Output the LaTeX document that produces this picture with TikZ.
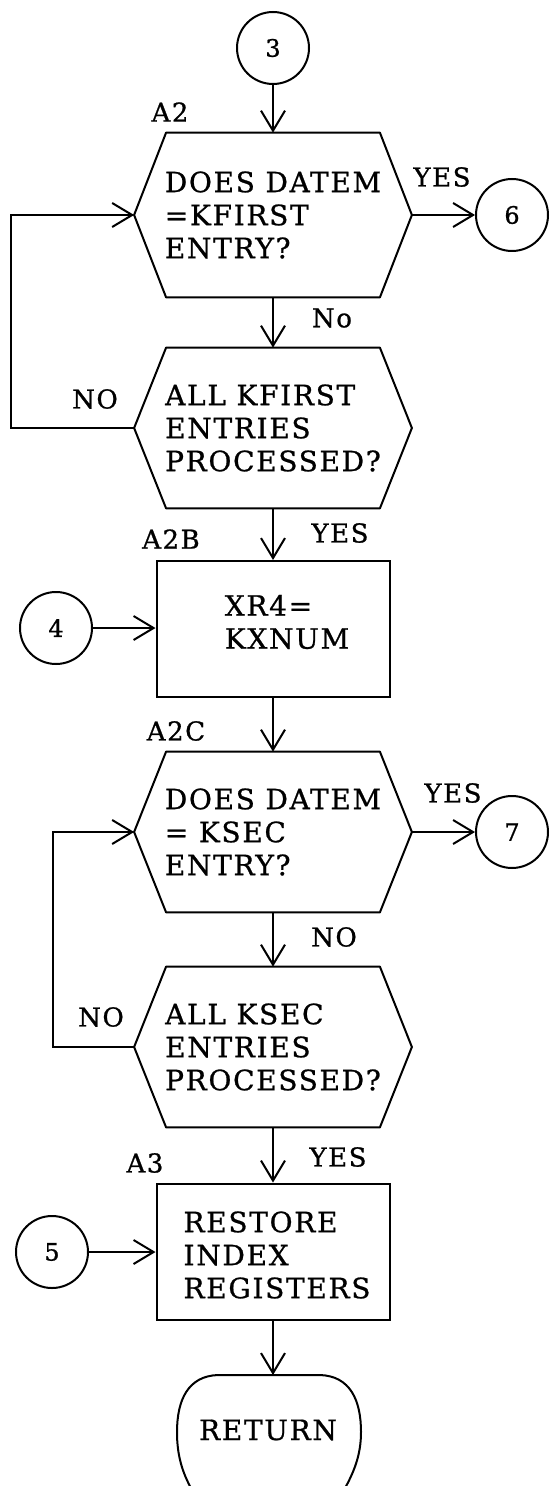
\documentclass[tikz,border=0pt]{standalone}
\usepackage{fontspec}
\setmainfont{DejaVu Serif}[LetterSpace=6, FakeBold=0.8]
\usetikzlibrary{arrows.meta}

% six-sided decision outline drawn around a borderless node
\newcommand{\drawdecision}[1]{%
  \draw[outline] ([xshift=16pt]#1.north west) -- ([xshift=-16pt]#1.north east)
    -- (#1.east) -- ([xshift=-16pt]#1.south east)
    -- ([xshift=16pt]#1.south west) -- (#1.west) -- cycle;}

\tikzset{
  outline/.style={line width=1pt, line join=round},
  flow/.style={line width=1pt, -{Straight Barb[length=10pt,width=12pt,line width=1pt]}},
  decision/.style={minimum width=138.5pt, minimum height=80pt, inner sep=0pt,
    align=left, font=\fontsize{14}{16.5}\selectfont},
  procbox/.style={draw, line width=1pt, minimum width=116.5pt, minimum height=68pt, inner sep=0pt},
  boxtext/.style={align=left, inner sep=0pt, font=\fontsize{14}{16.5}\selectfont},
  connector/.style={draw, circle, line width=1pt, minimum size=36pt, inner sep=0pt,
    font=\fontsize{12}{14}\selectfont},
  tag/.style={inner sep=0pt, font=\fontsize{13}{15}\selectfont},
}

\begin{document}
\begin{tikzpicture}[x=0.5pt, y=-0.5pt]
  \useasboundingbox (0,0) rectangle (550,1486);

  % off-page connectors
  \node[connector] (c3) at (273,48) {3};
  \node[connector] (c6) at (512,215) {6};
  \node[connector] (c4) at (56,628) {4};
  \node[connector] (c7) at (512,832) {7};
  \node[connector] (c5) at (52,1252) {5};

  % decisions
  \node[decision, minimum height=82pt] (h1) at (273,215) {DOES DATEM\\=KFIRST\\ENTRY?};
  \node[decision] (h2) at (273,428) {ALL KFIRST\\ENTRIES\\PROCESSED?};
  \node[decision] (h3) at (273,832) {DOES DATEM\\= KSEC\\ENTRY?};
  \node[decision] (h4) at (273,1047) {ALL KSEC\\ENTRIES\\PROCESSED?};
  \drawdecision{h1}
  \drawdecision{h2}
  \drawdecision{h3}
  \drawdecision{h4}

  % process boxes
  \node[procbox] (r1) at (273,629) {};
  \node[boxtext] (r1t) at (287,622) {XR4=\\KXNUM};
  \node[procbox] (r2) at (273,1251.5) {};
  \node[boxtext] (r2t) at (277,1255) {RESTORE\\INDEX\\REGISTERS};

  % terminal
  \node[boxtext] (ret) at (268,1430) {RETURN};
  \coordinate (rettop) at (273,1375);
  \draw[outline] (192,1490) .. controls (182,1472) and (177,1455) .. (177,1432)
    .. controls (177,1400) and (188,1376) .. (218,1375) -- (320,1375)
    .. controls (350,1376) and (361,1400) .. (361,1432)
    .. controls (361,1455) and (354,1472) .. (344,1490);

  % labels
  \node[tag] (lA2) at (170,112) {A2};
  \node[tag] (lyes1) at (442,177) {YES};
  \node[tag] (lno1) at (332,318) {No};
  \node[tag] (lno2) at (95,399) {NO};
  \node[tag] (lA2B) at (171,539) {A2B};
  \node[tag] (lyes2) at (340,533) {YES};
  \node[tag] (lA2C) at (176,731) {A2C};
  \node[tag] (lyes3) at (453,793) {YES};
  \node[tag] (lno3) at (334,937) {NO};
  \node[tag] (lno4) at (101,1017) {NO};
  \node[tag] (lA3) at (145,1163) {A3};
  \node[tag] (lyes4) at (338,1157) {YES};

  % flow lines
  \draw[flow] (c3) -- (h1.north);
  \draw[flow] (h1.east) -- (c6);
  \draw[flow] (h1.south) -- (h2.north);
  \draw[flow] (h2.west) -- ++(-123,0) |- (h1.west);
  \draw[flow] (h2.south) -- (r1.north);
  \draw[flow] (c4) -- (c4 -| r1.west);
  \draw[flow] (r1.south) -- (h3.north);
  \draw[flow] (h3.east) -- (c7);
  \draw[flow] (h3.south) -- (h4.north);
  \draw[flow] (h4.west) -- ++(-81,0) |- (h3.west);
  \draw[flow] (h4.south) -- (r2.north);
  \draw[flow] (c5) -- (c5 -| r2.west);
  \draw[flow] (r2.south) -- (rettop);
\end{tikzpicture}
\end{document}
